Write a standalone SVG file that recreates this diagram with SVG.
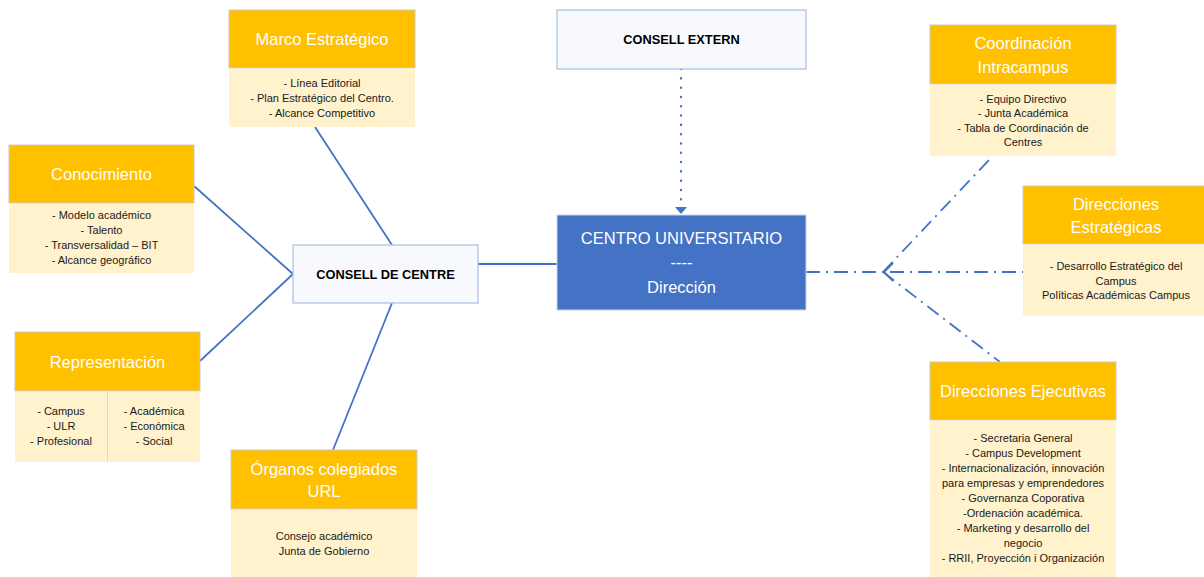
<svg xmlns="http://www.w3.org/2000/svg" width="1204" height="577" viewBox="0 0 1204 577">
<style>
.hd{fill:#FFC000;stroke:#C9C9C9;stroke-width:1}
.bd{fill:#FFF2CC;stroke:none}
.ht{font-family:"Liberation Sans",Arial,sans-serif;font-size:16.5px;fill:#FFFFFF;text-anchor:middle}
.bt{font-family:"Liberation Sans",Arial,sans-serif;font-size:11px;fill:#1a1a1a;text-anchor:middle}
.cb{fill:#F7F9FD;stroke:#A9BEE2;stroke-width:1.2}
.ct{font-family:"Liberation Sans",Arial,sans-serif;font-size:12.8px;font-weight:bold;fill:#000;text-anchor:middle}
.ln{stroke:#4472C4;stroke-width:1.8;fill:none}
.dd{stroke:#4472C4;stroke-width:1.8;fill:none;stroke-dasharray:14 6 2 6}
</style>
<g id="connectors">
<line class="ln" x1="315" y1="127" x2="392" y2="245"/>
<line class="ln" x1="194" y1="186" x2="293" y2="274"/>
<line class="ln" x1="200" y1="361" x2="293" y2="274"/>
<line class="ln" x1="333" y1="450" x2="392" y2="303"/>
<line class="ln" x1="478" y1="264" x2="557" y2="264"/>
<line x1="681" y1="69" x2="681" y2="206" stroke="#4472C4" stroke-width="2.4" stroke-dasharray="0.1 9.2" stroke-linecap="round"/>
<polygon points="675,207 687,207 681,214" fill="#4472C4"/>
<line class="dd" x1="806" y1="272" x2="1023" y2="272"/>
<line class="dd" x1="883" y1="272" x2="989" y2="160"/>
<line class="dd" x1="883" y1="272" x2="1000" y2="362"/>
<polyline class="ln" points="893,263 884,272 893,281"/>
</g>
<g id="marco">
<rect class="hd" x="229" y="10" width="186" height="58"/>
<rect class="bd" x="229" y="68.5" width="186" height="58.5"/>
<text class="ht" x="322" y="45">Marco Estratégico</text>
<text class="bt" x="322" y="87">- Línea Editorial</text>
<text class="bt" x="322" y="102">- Plan Estratégico del Centro.</text>
<text class="bt" x="322" y="117">- Alcance Competitivo</text>
</g>
<g id="conocimiento">
<rect class="hd" x="9" y="145" width="185" height="58"/>
<rect class="bd" x="9" y="203.5" width="185" height="69.5"/>
<text class="ht" x="101.5" y="180">Conocimiento</text>
<text class="bt" x="101.5" y="219">- Modelo académico</text>
<text class="bt" x="101.5" y="234">- Talento</text>
<text class="bt" x="101.5" y="249">- Transversalidad – BIT</text>
<text class="bt" x="101.5" y="264">- Alcance geográfico</text>
</g>
<g id="representacion">
<rect class="hd" x="15" y="332" width="185" height="59"/>
<rect class="bd" x="15" y="391.5" width="185" height="70.5"/>
<line x1="107.5" y1="391.5" x2="107.5" y2="462" stroke="#F5DA8C" stroke-width="1"/>
<text class="ht" x="107.5" y="368">Representación</text>
<text class="bt" x="61" y="415">- Campus</text>
<text class="bt" x="61" y="430">- ULR</text>
<text class="bt" x="61" y="445">- Profesional</text>
<text class="bt" x="154" y="415">- Académica</text>
<text class="bt" x="154" y="430">- Económica</text>
<text class="bt" x="154" y="445">- Social</text>
</g>
<g id="organos">
<rect class="hd" x="231" y="450" width="186" height="59"/>
<rect class="bd" x="231" y="509.5" width="186" height="67.5"/>
<text class="ht" x="324" y="475">Órganos colegiados</text>
<text class="ht" x="324" y="497">URL</text>
<text class="bt" x="324" y="540">Consejo académico</text>
<text class="bt" x="324" y="555">Junta de Gobierno</text>
</g>
<g id="consell-centre">
<rect class="cb" x="293" y="245" width="185" height="58"/>
<text class="ct" x="385.5" y="279">CONSELL DE CENTRE</text>
</g>
<g id="consell-extern">
<rect class="cb" x="557" y="10" width="249" height="59"/>
<text class="ct" x="681.5" y="44">CONSELL EXTERN</text>
</g>
<g id="centro">
<rect x="557" y="215" width="249" height="95" fill="#4472C4" stroke="#C9D3E8" stroke-width="1"/>
<text class="ht" x="681.5" y="244">CENTRO UNIVERSITARIO</text>
<text class="ht" x="681.5" y="268">----</text>
<text class="ht" x="681.5" y="293">Dirección</text>
</g>
<g id="coordinacion">
<rect class="hd" x="930" y="25" width="186" height="59"/>
<rect class="bd" x="930" y="84.5" width="186" height="71.5"/>
<text class="ht" x="1023" y="49">Coordinación</text>
<text class="ht" x="1023" y="73">Intracampus</text>
<text class="bt" x="1023" y="103">- Equipo Directivo</text>
<text class="bt" x="1023" y="117">- Junta Académica</text>
<text class="bt" x="1023" y="132">- Tabla de Coordinación de</text>
<text class="bt" x="1023" y="146">Centres</text>
</g>
<g id="estrategicas">
<rect class="hd" x="1023" y="186" width="186" height="58"/>
<rect class="bd" x="1023" y="244.5" width="186" height="71.5"/>
<text class="ht" x="1116" y="210">Direcciones</text>
<text class="ht" x="1116" y="233">Estratégicas</text>
<text class="bt" x="1116" y="270">- Desarrollo Estratégico del</text>
<text class="bt" x="1116" y="285">Campus</text>
<text class="bt" x="1116" y="299">Políticas Académicas Campus</text>
</g>
<g id="ejecutivas">
<rect class="hd" x="930" y="362" width="186" height="58"/>
<rect class="bd" x="930" y="420.5" width="186" height="156.5"/>
<text class="ht" x="1023" y="397">Direcciones Ejecutivas</text>
<text class="bt" x="1023" y="442">- Secretaria General</text>
<text class="bt" x="1023" y="457">- Campus Development</text>
<text class="bt" x="1023" y="472">- Internacionalización, innovación</text>
<text class="bt" x="1023" y="487">para empresas y emprendedores</text>
<text class="bt" x="1023" y="502">- Governanza Coporativa</text>
<text class="bt" x="1023" y="517">-Ordenación académica.</text>
<text class="bt" x="1023" y="532">- Marketing y desarrollo del</text>
<text class="bt" x="1023" y="547">negocio</text>
<text class="bt" x="1023" y="562">- RRII, Proyección i Organización</text>
</g>
</svg>
